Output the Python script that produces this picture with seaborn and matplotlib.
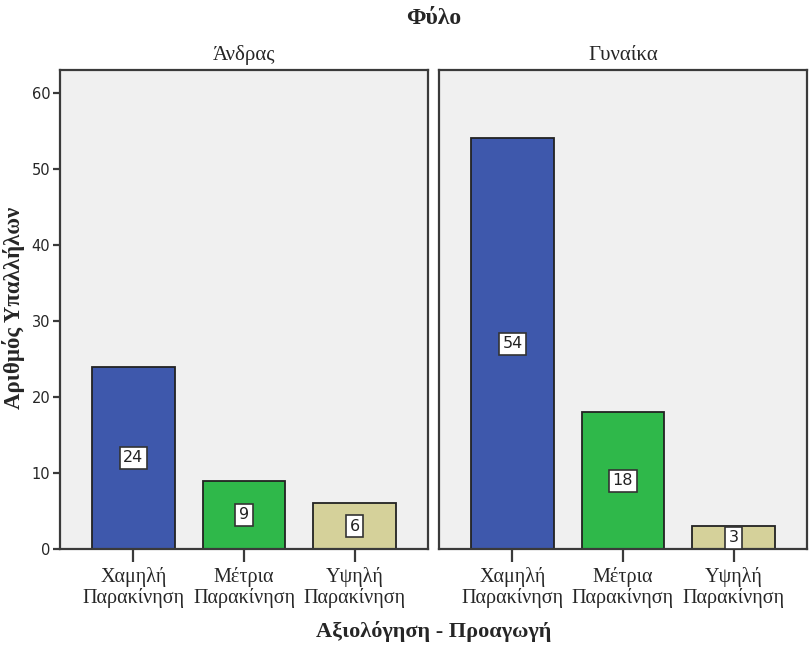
import pandas as pd
import matplotlib.pyplot as plt
import seaborn as sns

# ======= data =======
genders = ['Άνδρας', 'Γυναίκα']
categories = ['Χαμηλή\nΠαρακίνηση', 'Μέτρια\nΠαρακίνηση', 'Υψηλή\nΠαρακίνηση']
men_counts = [24, 9, 6]
women_counts = [54, 18, 3]
yticks = [0, 10, 20, 30, 40, 50, 60]

df = pd.DataFrame({
    'gender': [genders[0]] * 3 + [genders[1]] * 3,
    'cat': categories * 2,
    'count': men_counts + women_counts,
})

# ======= style =======
sns.set_theme(style="white")
plt.rcParams['font.family'] = ['Liberation Serif', 'DejaVu Serif']
palette = dict(zip(categories, ['#3e58ac', '#2fb84a', '#d5d19a']))
frame_col = '#3a3a3a'

fig = plt.figure(figsize=(8.11, 6.45), dpi=100)
W, H = 811, 645
panels = [(60, genders[0]), (439, genders[1])]

for i, (left_px, g) in enumerate(panels):
    ax = fig.add_axes([left_px / W, (H - 549) / H, 368 / W, 479 / H])
    sub = df[df['gender'] == g]
    sns.barplot(data=sub, x='cat', y='count', hue='cat', palette=palette,
                order=categories, hue_order=categories, width=0.75, saturation=1,
                edgecolor='#222222', linewidth=1.3, legend=False, ax=ax)
    ax.set_facecolor('#f0f0f0')
    ax.set_xlim(-0.665, 2.665)
    ax.set_ylim(0, 63)
    for s in ax.spines.values():
        s.set_color(frame_col)
        s.set_linewidth(1.6)
    ax.set_title(g, fontsize=15, pad=7)
    ax.set_xlabel('')
    ax.set_ylabel('')
    ax.set_xticks(range(3))
    ax.set_xticklabels(categories, linespacing=1.05)
    ax.tick_params(axis='x', bottom=True, length=9, width=1.6, color=frame_col,
                   labelsize=14.5, pad=4)
    ax.set_yticks(yticks)
    if i == 0:
        ax.tick_params(axis='y', left=True, length=5, width=1.6, color=frame_col, pad=2)
        for lbl in ax.get_yticklabels():
            lbl.set_family('DejaVu Sans')
            lbl.set_fontsize(10.5)
    else:
        ax.tick_params(axis='y', left=False, labelleft=False)

    # value labels in white boxes
    for j, v in enumerate(sub['count']):
        ax.text(j, v / 2, str(v), ha='center', va='center', fontsize=11.5,
                family='DejaVu Sans', color='#222222',
                bbox=dict(boxstyle='square,pad=0.22', fc='white', ec='#333333', lw=1.2))

fig.text(434 / W, 1 - 18 / H, 'Φύλο', ha='center', va='center',
         fontsize=17, fontweight='bold')
fig.text(434 / W, 1 - 632 / H, 'Αξιολόγηση - Προαγωγή', ha='center', va='center',
         fontsize=16, fontweight='bold')
fig.text(14 / W, 1 - 308 / H, 'Αριθμός Υπαλλήλων', ha='center', va='center',
         rotation=90, fontsize=16.5, fontweight='bold')

plt.savefig('out.png', dpi=100)
plt.close()
